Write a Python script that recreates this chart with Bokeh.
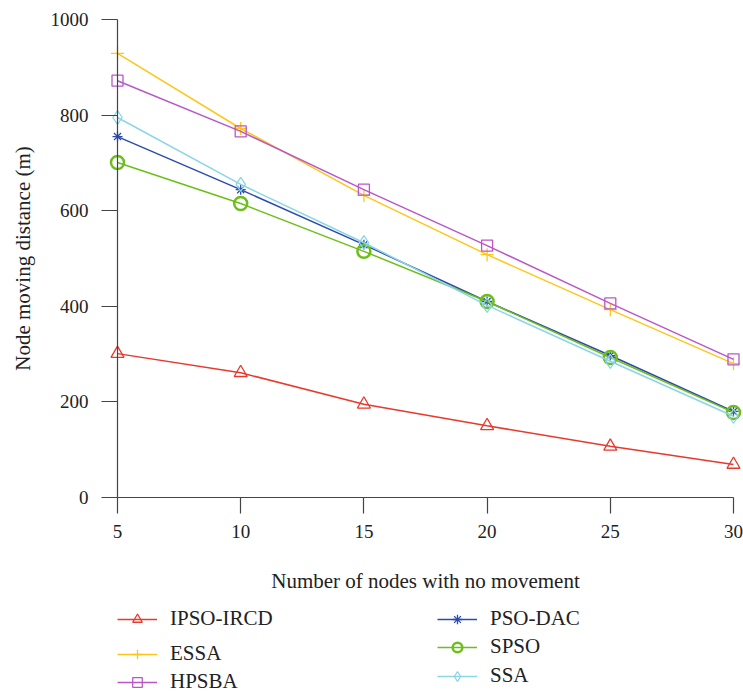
from bokeh.plotting import figure
from bokeh.models import Legend, LegendItem, Range1d, FixedTicker
from bokeh.embed import file_html
from bokeh.resources import INLINE

nodes = [5, 10, 15, 20, 25, 30]
ipso_ircd = [301, 261, 195, 150, 107, 69]
essa = [929, 772, 632, 508, 393, 280]
hpsba = [872, 766, 644, 527, 406, 289]
pso_dac = [755, 644, 529, 410, 297, 180]
spso = [701, 615, 515, 410, 293, 178]
ssa = [795, 655, 533, 402, 285, 170]
y_ticks = [0, 200, 400, 600, 800, 1000]

FONT = "Liberation Serif"
W, H = 743, 693

p = figure(width=W, height=H, output_backend="svg", toolbar_location=None,
           x_range=Range1d(0.2516, 30.406), y_range=Range1d(-410.04, 1039.75),
           min_border_left=0, min_border_right=0, min_border_top=0, min_border_bottom=0)
p.outline_line_color = None
p.grid.grid_line_color = None

for ax in (p.xaxis[0], p.yaxis[0]):
    ax.axis_line_color = "#444444"
    ax.axis_line_width = 1.2
    ax.major_tick_line_color = "#444444"
    ax.major_tick_line_width = 1.2
    ax.major_tick_out = 16
    ax.major_tick_in = 0
    ax.minor_tick_line_color = None
    ax.major_label_text_font = FONT
    ax.major_label_text_font_size = "19px"
    ax.major_label_text_color = "#222222"
    ax.axis_label_text_font = FONT
    ax.axis_label_text_font_size = "21px"
    ax.axis_label_text_font_style = "normal"
    ax.axis_label_text_color = "#222222"

p.xaxis.ticker = FixedTicker(ticks=nodes)
p.yaxis.ticker = FixedTicker(ticks=y_ticks)
p.xaxis.bounds = (5, 30)
p.yaxis.bounds = (0, 1000)
p.xaxis.fixed_location = 0
p.yaxis.fixed_location = 5
p.xaxis.axis_label = "Number of nodes with no movement"
p.yaxis.axis_label = "Node moving distance (m)"
p.xaxis.major_label_standoff = 11
p.yaxis.major_label_standoff = 13
p.xaxis.axis_label_standoff = 28
p.yaxis.axis_label_standoff = 13

series = [
    ("IPSO-IRCD", ipso_ircd, "#E8392D", "triangle", 13),
    ("ESSA", essa, "#FFC61A", "cross", 13),
    ("HPSBA", hpsba, "#B957C9", "square", 11),
    ("PSO-DAC", pso_dac, "#2D4BAF", "asterisk", 10),
    ("SPSO", spso, "#6CBF1A", "circle", 13),
    ("SSA", ssa, "#8AD6E6", "diamond", 14),
]
legend_pos = [(117, 619), (117, 654), (117, 682), (437, 619), (437, 647), (437, 676)]

for (name, vals, col, mk, sz), (lx, ly) in zip(series, legend_pos):
    r_line = p.line(nodes, vals, line_color=col, line_width=1.5)
    r_mk = p.scatter(nodes, vals, marker=mk, size=sz, line_color=col,
                     fill_color=None, line_width=2.5 if mk == "circle" else 1.3)
    lg = Legend(items=[LegendItem(label=name, renderers=[r_line, r_mk])],
                location=(lx, H - ly - 12), label_text_font=FONT, label_text_font_size="21px",
                label_text_color="#222222", glyph_width=40, glyph_height=24, label_height=24,
                label_standoff=13, padding=0, margin=0, spacing=0,
                border_line_color=None, background_fill_alpha=0)
    p.add_layout(lg, "center")

open("out.html", "w").write(file_html(p, INLINE))
